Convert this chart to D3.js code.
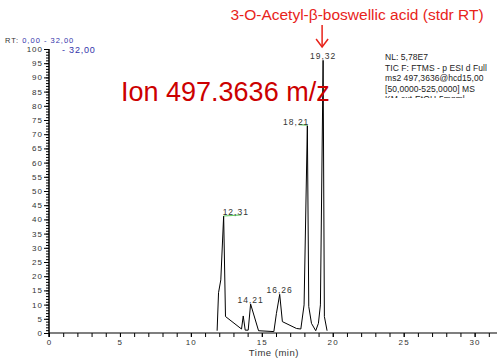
<!DOCTYPE html>
<html><head><meta charset="utf-8">
<script src="https://cdn.jsdelivr.net/npm/d3@7"></script>
<style>body{margin:0;background:#fff;}svg{display:block;font-family:"Liberation Sans",Arial,sans-serif;}</style>
</head><body>
<script>
// Data
const times = [11.85, 11.95, 12.11, 12.31, 12.44, 13.57, 13.69, 13.83, 14.04, 14.21, 14.77, 15.85, 16.03, 16.26, 16.45, 17.44, 17.75, 17.98, 18.21, 18.31, 18.5, 18.8, 18.99, 19.13, 19.32, 19.41, 19.6];
const intensity = [0.8, 14.2, 18.7, 41.2, 5.8, 1.4, 6.0, 1.0, 1.0, 10.2, 0.8, 0.5, 6.9, 13.6, 4.0, 1.6, 1.4, 9.9, 73, 9.3, 3.4, 0.8, 3.4, 9.9, 96, 5.8, 0.8];
const peakLabels = ["12,31", "14,21", "16,26", "18,21", "19,32"];
const peakTimes = [12.31, 14.21, 16.26, 18.21, 19.32];
const peakValues = [41.2, 10.2, 13.6, 73, 96];
const xTicks = [0, 5, 10, 15, 20, 25, 30];
const yTicks = [0,5,10,15,20,25,30,35,40,45,50,55,60,65,70,75,80,85,90,95,100];
const infoLines = ["NL: 5,78E7", "TIC F: FTMS - p ESI d Full", "ms2 497,3636@hcd15,00", "[50,0000-525,0000]  MS", "KM-ext-EtOH-5mgml-"];

const W = 497, H = 360;
const svg = d3.select("body").append("svg").attr("width", W).attr("height", H);
const x = d3.scaleLinear().domain([0, 32]).range([49, 503]);
const y = d3.scaleLinear().domain([0, 100]).range([333, 49]);

// Y axis
const yMinor = d3.range(0, 101, 1);
const gy = svg.append("g").attr("transform", "translate(49,0)");
gy.append("g").call(d3.axisLeft(y).tickValues(yMinor).tickSize(3).tickFormat(""))
  .call(g => g.select(".domain").remove());
gy.append("g").call(d3.axisLeft(y).tickValues(yTicks).tickSize(5).tickPadding(1).tickFormat(d3.format("d")))
  .call(g => g.select(".domain").remove())
  .selectAll("text").attr("fill", "#333").style("font-size", "8px").style("letter-spacing", "1px");
gy.append("line").attr("x1", 0).attr("x2", 0).attr("y1", y(100)).attr("y2", y(0) + 4)
  .attr("stroke", "#000").attr("stroke-width", 1.5);

// X axis
const gx = svg.append("g").attr("transform", "translate(0,333)");
gx.append("g").call(d3.axisBottom(x).tickValues(d3.range(0, 33, 1)).tickSize(4).tickFormat(""))
  .call(g => g.select(".domain").remove());
gx.append("g").call(d3.axisBottom(x).tickValues(xTicks).tickSize(4).tickPadding(2).tickFormat(d3.format("d")))
  .call(g => g.select(".domain").remove())
  .selectAll("text").attr("fill", "#333").style("font-size", "8px").style("letter-spacing", "1.2px");
gx.append("line").attr("x1", x(0)).attr("x2", W).attr("y1", 0).attr("y2", 0)
  .attr("stroke", "#000").attr("stroke-width", 1.2);

svg.append("text").attr("x", x(15.85)).attr("y", 356).attr("text-anchor", "middle")
  .attr("fill", "#333").style("font-size", "9.5px").style("letter-spacing", "0.5px").text("Time (min)");

// Trace
const line = d3.line().x((d, i) => x(times[i])).y(d => y(d));
svg.append("path").datum(intensity).attr("d", line).attr("fill", "none")
  .attr("stroke", "#000").attr("stroke-width", 1);

// Green baseline marks
svg.append("line").attr("x1", x(12.31)).attr("x2", x(13.55)).attr("y1", y(41.2)).attr("y2", y(41.6))
  .attr("stroke", "#66cc66").attr("stroke-width", 1.2);
svg.append("line").attr("x1", x(17.6)).attr("x2", x(18.21)).attr("y1", y(73.4)).attr("y2", y(73.2))
  .attr("stroke", "#66cc66").attr("stroke-width", 1.2);

// Peak labels
const anchorFor = d => d === "12,31" ? "start" : d === "18,21" ? "end" : "middle";
svg.selectAll("text.pk").data(peakLabels).join("text").attr("class", "pk")
  .attr("x", (d, i) => x(peakTimes[i]) + (anchorFor(d) === "start" ? -1 : anchorFor(d) === "end" ? 2 : 0))
  .attr("y", (d, i) => y(peakValues[i]) - 1)
  .attr("text-anchor", d => anchorFor(d)).attr("fill", "#333").style("font-size", "8.5px")
  .style("letter-spacing", "1px").text(d => d);

// RT header
const rt = svg.append("text").attr("x", 5).attr("y", 43).style("font-size", "7.5px").style("letter-spacing", "1px");
rt.append("tspan").attr("fill", "#333").text("RT: ");
rt.append("tspan").attr("fill", "#3333aa").text("0,00 - 32,00");
svg.append("text").attr("x", 62).attr("y", 53).attr("fill", "#3333aa").style("font-size", "9px")
  .style("letter-spacing", "0.8px").text("- 32,00");

// Info block
const info = svg.append("g");
info.append("clipPath").attr("id", "clipInfo").append("rect").attr("x", 380).attr("y", 40).attr("width", 116).attr("height", 58);
info.append("g").attr("clip-path", "url(#clipInfo)").selectAll("text").data(infoLines).join("text")
  .attr("x", 385).attr("y", (d, i) => 60 + i * 10.5).attr("fill", "#222").style("font-size", "8.5px")
  .style("letter-spacing", "0.05px").text(d => d);

// Ion label
svg.append("text").attr("x", 121).attr("y", 101).attr("fill", "#cc0000").style("font-size", "27px").text("Ion 497.3636 m/z");

// Title and arrow
svg.append("text").attr("x", 357).attr("y", 20).attr("text-anchor", "middle").attr("fill", "#e8231a")
  .style("font-size", "15.5px").text("3-O-Acetyl-β-boswellic acid (stdr RT)");
const ax = x(19.32) - 1;
svg.append("line").attr("x1", ax).attr("x2", ax).attr("y1", 25).attr("y2", 47)
  .attr("stroke", "#e8231a").attr("stroke-width", 1.5);
svg.append("path").attr("d", `M${ax - 6},39 L${ax},47 L${ax + 6},39`)
  .attr("fill", "none").attr("stroke", "#e8231a").attr("stroke-width", 1.5);
</script>
</body></html>
